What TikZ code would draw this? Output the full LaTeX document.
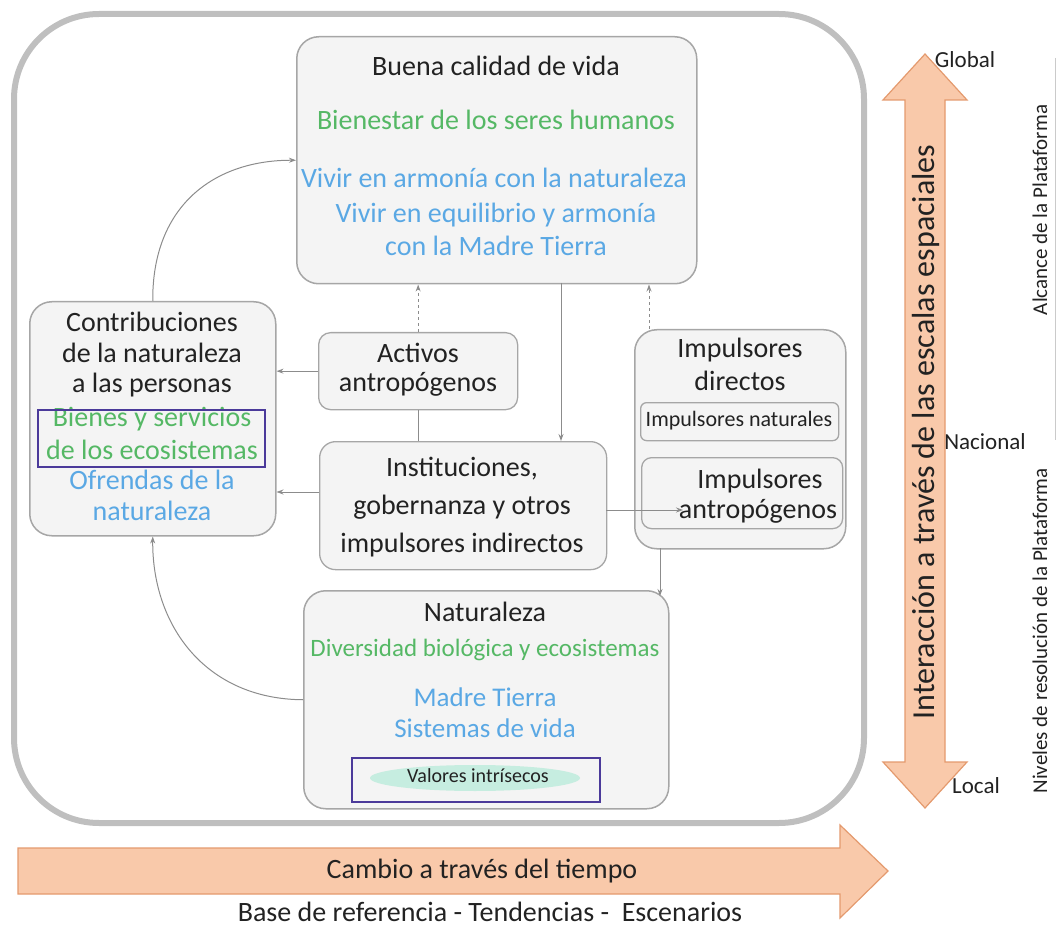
\documentclass[tikz,border=0pt]{standalone}
\usepackage{fontspec}
\setmainfont{Carlito}
\usetikzlibrary{arrows.meta}
\definecolor{txt}{HTML}{222222}
\definecolor{grn}{HTML}{55B865}
\definecolor{blu}{HTML}{5AA8E4}
\definecolor{boxfill}{HTML}{F4F4F4}
\definecolor{boxline}{HTML}{A6A6A6}
\definecolor{outerc}{HTML}{BFBFBF}
\definecolor{peach}{HTML}{F9C9AA}
\definecolor{peachline}{HTML}{E49A6E}
\definecolor{pen}{HTML}{4B3A9A}
\definecolor{conn}{HTML}{8C8C8C}
\definecolor{hilite}{HTML}{C6EDE0}
\newcommand\myfs[1]{\fontsize{#1}{#1}\selectfont}
\tikzset{
  card/.style={draw=boxline, fill=boxfill, line width=1.5pt, rounded corners=22pt, anchor=north west, inner sep=0pt},
  subcard/.style={draw=boxline, fill=boxfill, line width=1.3pt, rounded corners=8pt, anchor=north west, inner sep=0pt},
  lbl/.style={font=\myfs{28}, text=txt, inner sep=0pt, align=center},
  glbl/.style={lbl, text=grn},
  blbl/.style={lbl, text=blu},
  small/.style={font=\myfs{23}, text=txt, inner sep=0pt},
  link/.style={draw=conn, line width=1pt, -{Stealth[length=7pt,width=5pt]}},
  plain/.style={draw=conn, line width=1pt},
  penbox/.style={draw=pen, line width=2pt},
  bigarrow/.style={fill=peach, draw=peachline, line width=1.2pt, line join=miter}
}
\begin{document}
\begin{tikzpicture}[x=1pt,y=-1pt]
\useasboundingbox (0,0) rectangle (1058,933);
% outer frame
\draw[outerc, line width=6pt, rounded corners=85pt] (14,14) rectangle (864,823);

% boxes
\node[card, minimum width=400pt, minimum height=247pt] (buena) at (296,36) {};
\node[card, minimum width=246pt, minimum height=234pt] (contrib) at (29,301) {};
\node[subcard, rounded corners=12pt, minimum width=199pt, minimum height=77pt] (activos) at (318,332) {};
\node[subcard, rounded corners=16pt, minimum width=287pt, minimum height=128pt] (inst) at (319,441) {};
\node[card, minimum width=211pt, minimum height=219pt] (impdir) at (634,329) {};
\node[subcard, rounded corners=6pt, minimum width=198pt, minimum height=38pt] (impnat) at (640,402) {};
\node[subcard, rounded corners=10pt, minimum width=201pt, minimum height=71pt] (impant) at (641,457) {};
\node[card, minimum width=365pt, minimum height=218pt] (nat) at (303,590) {};

% Buena calidad de vida
\node[lbl] (t1) at (496,66) {Buena calidad de vida};
\node[glbl] (t2) at (496,120) {Bienestar de los seres humanos};
\node[blbl] (t3) at (494,178) {Vivir en armonía con la naturaleza};
\node[blbl] (t4) at (496,215) {Vivir en equilibrio y armonía};
\node[blbl] (t5) at (496,246) {con la Madre Tierra};

% Contribuciones
\node[lbl] (c1) at (152,322) {Contribuciones};
\node[lbl] (c2) at (152,353) {de la naturaleza};
\node[lbl] (c3) at (152,385) {a las personas};
\node[glbl] (c4) at (152,419) {Bienes y servicios};
\node[glbl] (c5) at (152,450) {de los ecosistemas};
\node[blbl] (c6) at (152,480) {Ofrendas de la};
\node[blbl] (c7) at (152,511) {naturaleza};
\draw[penbox] (38,410) rectangle (265,467);

% Activos
\node[lbl] (a1) at (418,353) {Activos};
\node[lbl] (a2) at (418,384) {antropógenos};

% Instituciones
\node[lbl] (i1) at (462,469) {Instituciones,};
\node[lbl] (i2) at (462,507) {gobernanza y otros};
\node[lbl] (i3) at (462,545) {impulsores indirectos};

% Impulsores directos
\node[lbl] (d1) at (740,350) {Impulsores};
\node[lbl] (d2) at (740,381) {directos};
\node[small, font=\myfs{22}] (d3) at (739,421) {Impulsores naturales};
\node[lbl] (d4) at (760,481) {Impulsores};
\node[lbl] (d5) at (758,511) {antropógenos};

% Naturaleza
\node[lbl] (n1) at (485,612) {Naturaleza};
\node[glbl, font=\myfs{25}] (n2) at (485,650) {Diversidad biológica y ecosistemas};
\node[blbl, font=\myfs{27}] (n3) at (485,697) {Madre Tierra};
\node[blbl, font=\myfs{27}] (n4) at (485,728) {Sistemas de vida};
\fill[hilite] (475,778) ellipse (105pt and 13pt);
\node[small, font=\myfs{20}] (n5) at (478,776) {Valores intrísecos};
\draw[penbox] (352,758) rectangle (600,802);

% connectors
\draw[link] (contrib.north) .. controls (152,205) and (215,160) .. (buena.west);
\draw[link] (nat.west) .. controls (205,699) and (152,625) .. (contrib.south);
\draw[link] (activos.west) -- (contrib.east |- activos.west);
\coordinate (ia) at (319,492);
\draw[link] (ia) -- (contrib.east |- ia);
\draw[link, dashed] (activos.north) -- (buena.south -| activos.north);
\draw[plain] (activos.south) -- (inst.north -| activos.south);
\coordinate (bs) at (561,283);
\draw[link] (bs) -- (inst.north -| bs);
\coordinate (dn) at (649,329);
\draw[link, dashed] (dn) -- (buena.south -| dn);
\coordinate (ie) at (606,510);
\coordinate (ae) at (683,510);
\draw[link] (ie) -- (ae);
\coordinate (ds) at (660,548);
\coordinate (nt) at (660,596);
\draw[link] (ds) -- (nt);

% vertical double arrow
\draw[bigarrow] (925,54) -- (967,100) -- (945,100) -- (945,762) -- (967,762) -- (925,808) -- (883,762) -- (905,762) -- (905,100) -- (883,100) -- cycle;
\node[lbl, font=\myfs{32}, rotate=90] (vtxt) at (926,432) {Interacción a través de las escalas espaciales};
\node[small] (glob) at (965,60) {Global};
\node[small] (nac) at (985,442) {Nacional};
\node[small] (loc) at (976,786) {Local};
\draw[boxline!60, line width=1pt] (1055,58) -- (1055,440);
\node[small, font=\myfs{21}, rotate=90] (alc) at (1040,210) {Alcance de la Plataforma};
\node[small, font=\myfs{21}, rotate=90] (niv) at (1040,631) {Niveles de resolución de la Plataforma};

% horizontal arrow
\draw[bigarrow] (18,848) -- (840,848) -- (840,825) -- (888,871) -- (840,918) -- (840,894) -- (18,894) -- cycle;
\node[lbl] (h1) at (482,871) {Cambio a través del tiempo};
\node[lbl] (h2) at (490,912) {Base de referencia - Tendencias -\ \ Escenarios};
\end{tikzpicture}
\end{document}
